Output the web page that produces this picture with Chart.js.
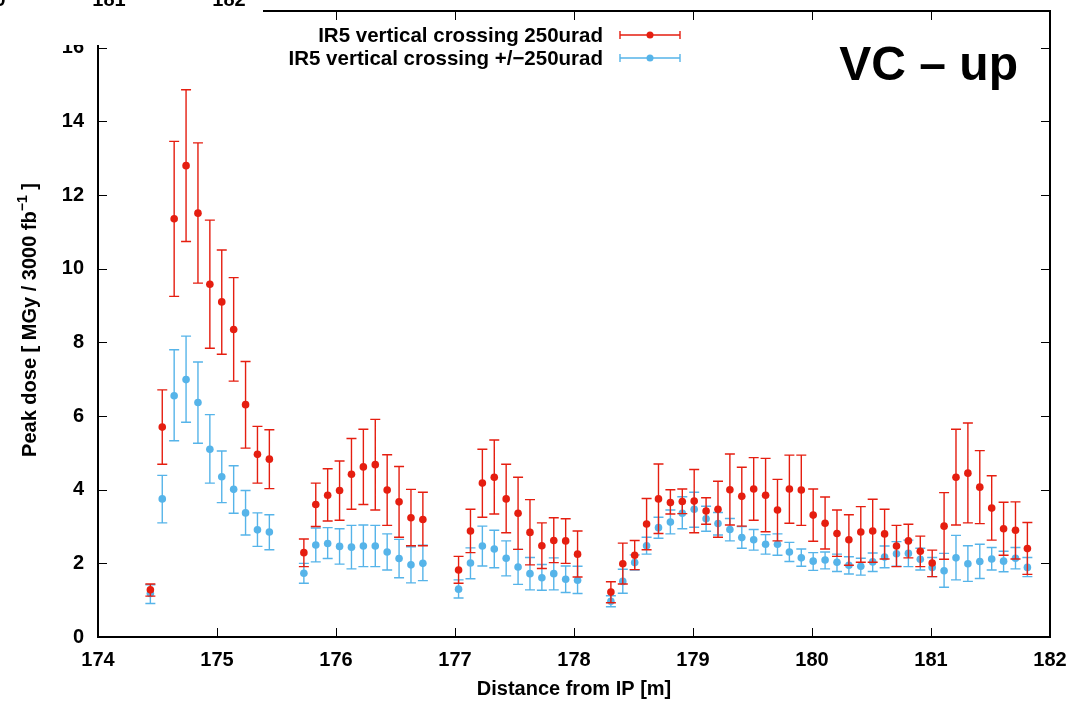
<!DOCTYPE html>
<html>
<head>
<meta charset="utf-8">
<title>Peak dose - VC up</title>
<script src="https://cdn.jsdelivr.net/npm/chart.js@4.4.0/dist/chart.umd.min.js"></script>
<style>
  html, body { margin: 0; padding: 0; background: #fff; }
  canvas { display: block; }
</style>
</head>
<body>
<canvas id="doseChart" width="1075" height="701"></canvas>
<script>
// Scoring positions along the beam line [m]
const positions = [
  174.44, 174.54, 174.64, 174.74, 174.84, 174.94, 175.04, 175.14, 175.24, 175.34, 175.44,
  175.73, 175.83, 175.93, 176.03, 176.13, 176.23, 176.33, 176.43, 176.53, 176.63, 176.73,
  177.03, 177.13, 177.23, 177.33, 177.43, 177.53, 177.63, 177.73, 177.83, 177.93, 178.03,
  178.31, 178.41, 178.51, 178.61, 178.71, 178.81, 178.91, 179.01, 179.11, 179.21,
  179.31, 179.41, 179.51, 179.61, 179.71, 179.81, 179.91, 180.01, 180.11, 180.21,
  180.31, 180.41, 180.51, 180.61, 180.71, 180.81, 180.91, 181.01, 181.11, 181.21,
  181.31, 181.41, 181.51, 181.61, 181.71, 181.81
];

// IR5 vertical crossing 250urad
const vcDose = [
  1.28, 5.70, 11.36, 12.80, 11.51, 9.58, 9.10, 8.35, 6.31, 4.96, 4.83,
  2.29, 3.60, 3.85, 3.98, 4.42, 4.62, 4.68, 3.99, 3.67, 3.24, 3.19,
  1.82, 2.88, 4.18, 4.34, 3.75, 3.36, 2.84, 2.48, 2.62, 2.61, 2.25,
  1.22, 1.99, 2.22, 3.07, 3.75, 3.65, 3.68, 3.69, 3.42, 3.47,
  4.00, 3.82, 4.02, 3.85, 3.45, 4.02, 3.99, 3.31, 3.09, 2.81,
  2.64, 2.85, 2.88, 2.80, 2.47, 2.61, 2.33, 2.01, 3.01, 4.34,
  4.45, 4.07, 3.50, 2.94, 2.90, 2.40
];
const vcHigh = [
  1.44, 6.71, 13.46, 14.86, 13.42, 11.32, 10.51, 9.76, 7.48, 5.72, 5.63,
  2.66, 4.18, 4.57, 4.78, 5.39, 5.64, 5.91, 4.95, 4.63, 4.01, 3.93,
  2.19, 3.47, 5.10, 5.35, 4.69, 4.34, 3.73, 3.10, 3.24, 3.21, 2.88,
  1.50, 2.55, 2.62, 3.76, 4.70, 4.00, 4.02, 4.55, 3.78, 4.23,
  4.97, 4.61, 4.87, 4.85, 4.28, 4.94, 4.94, 4.02, 3.80, 3.45,
  3.32, 3.54, 3.74, 3.47, 3.03, 3.06, 2.74, 2.36, 3.92, 5.64,
  5.81, 5.06, 4.38, 3.66, 3.67, 3.11
];
const vcLow = [
  1.11, 4.69, 9.25, 10.74, 9.61, 7.84, 7.68, 6.95, 5.13, 4.18, 4.03,
  1.91, 3.00, 3.15, 3.17, 3.47, 3.60, 3.45, 3.03, 2.71, 2.48, 2.48,
  1.46, 2.29, 3.25, 3.34, 2.83, 2.38, 1.96, 1.86, 2.02, 2.00, 1.63,
  0.93, 1.44, 1.83, 2.37, 2.81, 3.34, 3.35, 2.83, 3.06, 2.71,
  3.04, 3.01, 3.17, 2.86, 2.61, 3.09, 3.03, 2.60, 2.39, 2.19,
  1.95, 2.03, 2.03, 2.12, 1.91, 2.15, 1.91, 1.64, 2.11, 3.04,
  3.10, 3.08, 2.63, 2.22, 2.12, 1.70
];

// IR5 vertical crossing +/-250urad
const altDose = [
  1.18, 3.75, 6.55, 6.99, 6.37, 5.10, 4.35, 4.01, 3.37, 2.91, 2.85,
  1.73, 2.50, 2.54, 2.46, 2.44, 2.47, 2.47, 2.31, 2.13, 1.96, 2.00,
  1.30, 2.01, 2.47, 2.39, 2.14, 1.90, 1.72, 1.61, 1.72, 1.57, 1.54,
  0.97, 1.51, 2.02, 2.48, 2.97, 3.12, 3.36, 3.47, 3.21, 3.08,
  2.92, 2.70, 2.64, 2.52, 2.52, 2.31, 2.15, 2.06, 2.09, 2.03,
  1.95, 1.92, 2.04, 2.17, 2.26, 2.27, 2.11, 1.89, 1.80, 2.15,
  1.99, 2.05, 2.12, 2.06, 2.14, 1.89
];
const altHigh = [
  1.42, 4.39, 7.80, 8.17, 7.47, 6.04, 5.05, 4.65, 3.98, 3.37, 3.32,
  2.00, 2.96, 2.97, 2.94, 3.03, 3.04, 3.03, 2.80, 2.65, 2.45, 2.49,
  1.55, 2.42, 3.01, 2.90, 2.61, 2.38, 2.16, 1.97, 2.15, 1.93, 1.92,
  1.12, 1.84, 2.23, 2.71, 3.25, 3.45, 3.81, 3.93, 3.55, 3.38,
  3.22, 3.00, 2.92, 2.78, 2.80, 2.57, 2.39, 2.29, 2.31, 2.25,
  2.18, 2.14, 2.28, 2.47, 2.59, 2.63, 2.41, 2.16, 2.27, 2.76,
  2.48, 2.52, 2.43, 2.33, 2.43, 2.16
];
const altLow = [
  0.91, 3.10, 5.33, 5.83, 5.26, 4.18, 3.65, 3.36, 2.77, 2.46, 2.37,
  1.46, 2.04, 2.13, 1.98, 1.85, 1.91, 1.91, 1.82, 1.61, 1.47, 1.53,
  1.06, 1.58, 1.93, 1.88, 1.66, 1.43, 1.28, 1.27, 1.28, 1.21, 1.18,
  0.82, 1.19, 1.82, 2.25, 2.68, 2.80, 2.94, 2.98, 2.87, 2.77,
  2.61, 2.41, 2.36, 2.25, 2.22, 2.05, 1.92, 1.81, 1.85, 1.78,
  1.71, 1.68, 1.78, 1.88, 1.92, 1.91, 1.82, 1.64, 1.35, 1.55,
  1.51, 1.59, 1.82, 1.77, 1.85, 1.64
];

const seriesLabels = ['IR5 vertical crossing 250urad', 'IR5 vertical crossing +/\u2212250urad'];
const seriesColors = ['#e51e10', '#56b4e9'];
const xTitle = 'Distance from IP [m]';
const panelTag = 'VC \u2013 up';

const FONT = '"Liberation Sans", Arial, Helvetica, sans-serif';

function toPoints(values) {
  return values.map((v, i) => ({ x: positions[i], y: v }));
}

// Vertical error bars with caps, drawn under each dataset's points
const errorBars = {
  id: 'errorBars',
  beforeDatasetDraw(chart, args) {
    const ds = chart.data.datasets[args.index];
    const xs = chart.scales.x, ys = chart.scales.y;
    const ctx = chart.ctx;
    ctx.save();
    ctx.strokeStyle = ds.borderColor;
    ctx.lineWidth = 1.4;
    ctx.beginPath();
    ds.data.forEach((p, i) => {
      const px = xs.getPixelForValue(p.x);
      const top = ys.getPixelForValue(ds.high[i]);
      const bot = ys.getPixelForValue(ds.low[i]);
      ctx.moveTo(px, top); ctx.lineTo(px, bot);
      ctx.moveTo(px - 5, top); ctx.lineTo(px + 5, top);
      ctx.moveTo(px - 5, bot); ctx.lineTo(px + 5, bot);
    });
    ctx.stroke();
    ctx.restore();
  }
};

// Border, mirrored inward ticks, titles, key and panel tag
const frame = {
  id: 'frame',
  afterDraw(chart) {
    const ctx = chart.ctx;
    const a = chart.chartArea;
    const xs = chart.scales.x, ys = chart.scales.y;
    ctx.save();

    ctx.strokeStyle = '#000';
    ctx.lineWidth = 1;
    ctx.beginPath();
    xs.ticks.forEach(t => {
      const px = Math.round(xs.getPixelForValue(t.value)) + 0.5;
      ctx.moveTo(px, a.bottom); ctx.lineTo(px, a.bottom - 9);
      ctx.moveTo(px, a.top); ctx.lineTo(px, a.top + 9);
    });
    ys.ticks.forEach(t => {
      const py = Math.round(ys.getPixelForValue(t.value)) + 0.5;
      ctx.moveTo(a.left, py); ctx.lineTo(a.left + 9, py);
      ctx.moveTo(a.right, py); ctx.lineTo(a.right - 9, py);
    });
    ctx.stroke();

    ctx.lineWidth = 2;
    ctx.strokeRect(a.left, a.top, a.right - a.left, a.bottom - a.top);

    // top-left corner is blanked, with the bottom of a clipped axis row above
    ctx.fillStyle = '#fff';
    ctx.fillRect(0, 0, 263, 45);
    ctx.fillStyle = '#000';
    ctx.font = 'bold 20px ' + FONT;
    ctx.textAlign = 'center';
    ctx.textBaseline = 'alphabetic';
    ctx.fillText('180', -11, 6);
    ctx.fillText('181', 109, 6);
    ctx.fillText('182', 229, 6);

    // x axis title
    ctx.font = 'bold 20px ' + FONT;
    ctx.textAlign = 'center';
    ctx.fillText(xTitle, (a.left + a.right) / 2, 695);

    // y axis title with superscript
    ctx.save();
    ctx.translate(36, 320);
    ctx.rotate(-Math.PI / 2);
    const head = 'Peak dose [ MGy / 3000 fb';
    const sup = '\u22121';
    const tail = ' ]';
    ctx.font = 'bold 20px ' + FONT;
    const wHead = ctx.measureText(head).width;
    const wTail = ctx.measureText(tail).width;
    ctx.font = 'bold 14px ' + FONT;
    const wSup = ctx.measureText(sup).width;
    let sx = -(wHead + wSup + wTail) / 2;
    ctx.textAlign = 'left';
    ctx.font = 'bold 20px ' + FONT;
    ctx.fillText(head, sx, 0);
    sx += wHead;
    ctx.font = 'bold 14px ' + FONT;
    ctx.fillText(sup, sx, -9);
    sx += wSup;
    ctx.font = 'bold 20px ' + FONT;
    ctx.fillText(tail, sx, 0);
    ctx.restore();

    // key
    const rows = [35, 58];
    ctx.font = 'bold 20.5px ' + FONT;
    ctx.textAlign = 'right';
    ctx.textBaseline = 'middle';
    rows.forEach((ry, i) => {
      ctx.fillStyle = '#000';
      ctx.fillText(seriesLabels[i], 603, ry + 1);
      ctx.strokeStyle = seriesColors[i];
      ctx.lineWidth = 1.4;
      ctx.beginPath();
      ctx.moveTo(620, ry); ctx.lineTo(680, ry);
      ctx.moveTo(620, ry - 4); ctx.lineTo(620, ry + 4);
      ctx.moveTo(680, ry - 4); ctx.lineTo(680, ry + 4);
      ctx.stroke();
      ctx.fillStyle = seriesColors[i];
      ctx.beginPath();
      ctx.arc(650, ry, 3.5, 0, Math.PI * 2);
      ctx.fill();
    });

    // panel tag
    ctx.fillStyle = '#000';
    ctx.font = 'bold 48px ' + FONT;
    ctx.textAlign = 'right';
    ctx.textBaseline = 'alphabetic';
    ctx.fillText(panelTag, 1018, 80);

    ctx.restore();
  }
};

const tickFont = { family: FONT, size: 20, weight: 'bold' };

new Chart(document.getElementById('doseChart'), {
  type: 'scatter',
  data: {
    datasets: [
      {
        label: seriesLabels[0],
        data: toPoints(vcDose),
        high: vcHigh,
        low: vcLow,
        borderColor: seriesColors[0],
        backgroundColor: seriesColors[0],
        pointRadius: 3.8,
        pointBorderWidth: 0
      },
      {
        label: seriesLabels[1],
        data: toPoints(altDose),
        high: altHigh,
        low: altLow,
        borderColor: seriesColors[1],
        backgroundColor: seriesColors[1],
        pointRadius: 3.8,
        pointBorderWidth: 0
      }
    ]
  },
  options: {
    responsive: false,
    animation: false,
    devicePixelRatio: 1,
    layout: { padding: { left: 0, right: 25, top: 11, bottom: 0 } },
    plugins: {
      legend: { display: false },
      tooltip: { enabled: false }
    },
    scales: {
      x: {
        type: 'linear',
        min: 174,
        max: 182,
        afterFit: s => { s.height = 64; s.paddingLeft = 0; s.paddingRight = 0; },
        grid: { display: false, drawTicks: false },
        border: { display: false },
        ticks: { stepSize: 1, autoSkip: false, maxRotation: 0, padding: 11, color: '#000', font: tickFont }
      },
      y: {
        type: 'linear',
        min: 0,
        max: 17,
        afterFit: s => { s.width = 98; s.paddingTop = 0; s.paddingBottom = 0; },
        grid: { display: false, drawTicks: false },
        border: { display: false },
        ticks: { stepSize: 2, includeBounds: false, padding: 14, color: '#000', font: tickFont }
      }
    }
  },
  plugins: [errorBars, frame]
});
</script>
</body>
</html>
